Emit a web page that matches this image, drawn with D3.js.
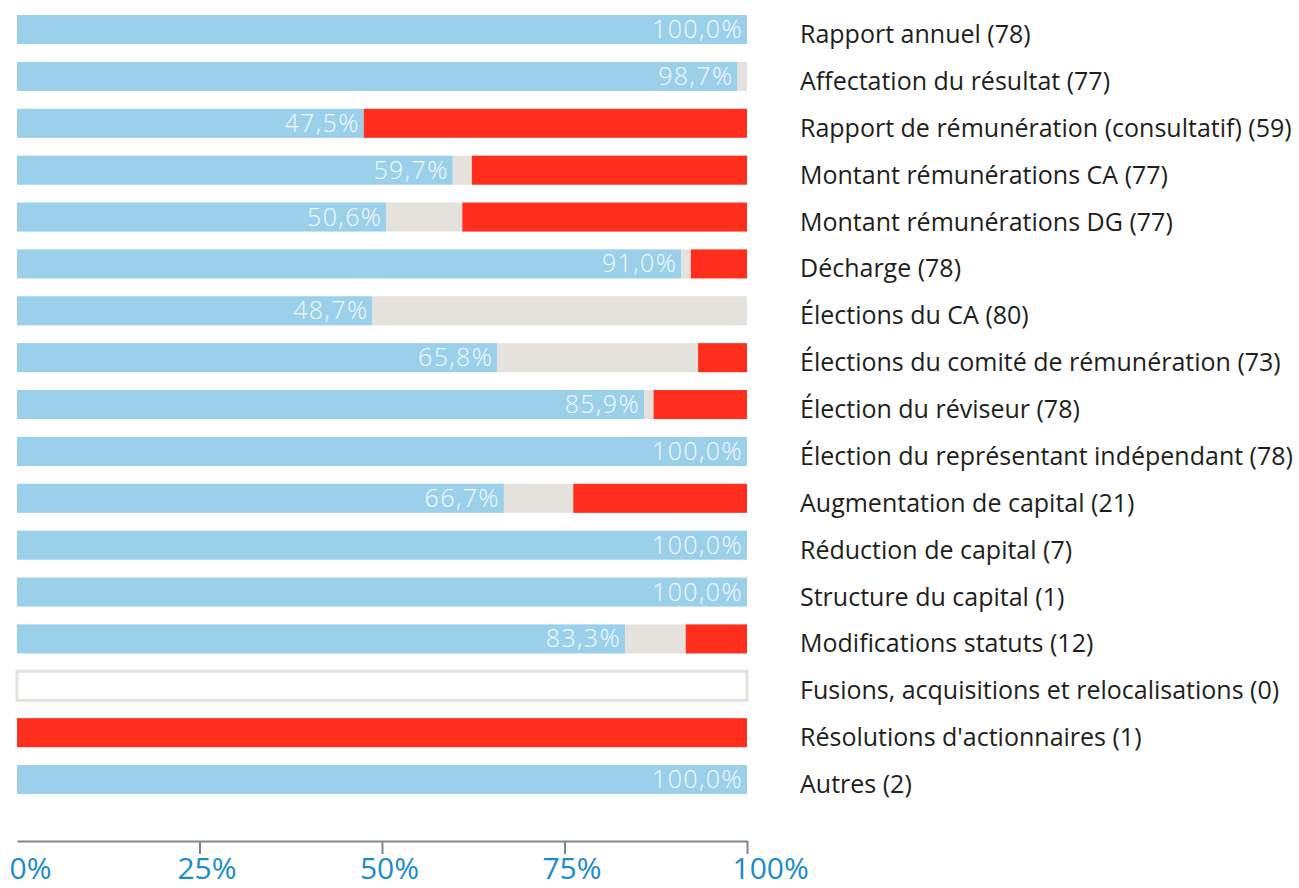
<!DOCTYPE html>
<html>
<head>
<meta charset="utf-8">
<script src="https://cdn.jsdelivr.net/npm/d3@7"></script>
<style>
  html, body { margin: 0; padding: 0; background: #fff; }
  svg { display: block; }
</style>
</head>
<body>
<svg id="chart" width="1299" height="888"></svg>
<script>
// categories (with number of votes in brackets)
const categories = [
  "Rapport annuel (78)",
  "Affectation du résultat (77)",
  "Rapport de rémunération (consultatif) (59)",
  "Montant rémunérations CA (77)",
  "Montant rémunérations DG (77)",
  "Décharge (78)",
  "Élections du CA (80)",
  "Élections du comité de rémunération (73)",
  "Élection du réviseur (78)",
  "Élection du représentant indépendant (78)",
  "Augmentation de capital (21)",
  "Réduction de capital (7)",
  "Structure du capital (1)",
  "Modifications statuts (12)",
  "Fusions, acquisitions et relocalisations (0)",
  "Résolutions d'actionnaires (1)",
  "Autres (2)"
];
// share in % : yes / abstention-mixed / no
const yesValues     = [100, 98.7, 47.5, 59.7, 50.6, 91.0, 48.7, 65.8, 85.9, 100, 66.7, 100, 100, 83.3, 0, 0, 100];
const abstainValues = [0, 1.3, 0, 2.6, 10.4, 1.3, 51.3, 27.5, 1.3, 0, 9.5, 0, 0, 8.3, 0, 0, 0];
const noValues      = [0, 0, 52.5, 37.7, 39.0, 7.7, 0, 6.7, 12.8, 0, 23.8, 0, 0, 8.4, 0, 100, 0];
const tickValues = [0, 25, 50, 75, 100];

const colors = { yes: "#9ad0ea", abstain: "#e5e2dd", no: "#ff2e1d" };

const svg = d3.select("#chart");

const x = d3.scaleLinear().domain([0, 100]).range([17, 747]);
// step ~46.9px, bars ~29px high, first bar top at 15
const y = d3.scaleBand().domain(categories).range([-2.8, 811.9]).padding(0.38);

const rows = categories.map((c, i) => ({
  cat: c,
  yes: yesValues[i],
  abstain: abstainValues[i],
  no: noValues[i]
}));

const stack = d3.stack().keys(["yes", "abstain", "no"])(rows);

svg.append("g")
  .selectAll("g")
  .data(stack)
  .join("g")
  .attr("fill", d => colors[d.key])
  .selectAll("rect")
  .data(d => d)
  .join("rect")
  .attr("x", d => x(d[0]))
  .attr("y", d => y(d.data.cat))
  .attr("width", d => x(d[1]) - x(d[0]))
  .attr("height", y.bandwidth());

// empty rows get an outlined box
svg.append("g")
  .selectAll("rect")
  .data(rows.filter(r => r.yes + r.abstain + r.no === 0))
  .join("rect")
  .attr("x", x(0))
  .attr("y", d => y(d.cat))
  .attr("width", x(100) - x(0))
  .attr("height", y.bandwidth())
  .attr("fill", "none")
  .attr("stroke", colors.abstain)
  .attr("stroke-width", 3);

// value labels inside the blue part
svg.append("g")
  .selectAll("text")
  .data(rows.filter(r => r.yes > 0))
  .join("text")
  .attr("x", d => x(d.yes) - 4)
  .attr("y", d => y(d.cat) + y.bandwidth() / 2)
  .attr("dy", "0.34em")
  .attr("text-anchor", "end")
  .attr("font-family", "'Open Sans', sans-serif")
  .attr("font-weight", 300)
  .attr("font-size", 25)
  .attr("letter-spacing", 1.4)
  .attr("fill", "#f2f9fd")
  .text(d => d.yes.toFixed(1).replace(".", ",") + "%");

// category labels on the right
svg.append("g")
  .selectAll("text")
  .data(categories)
  .join("text")
  .attr("x", 800)
  .attr("y", d => y(d) + y.bandwidth() / 2)
  .attr("dy", "0.54em")
  .attr("font-family", "'Open Sans', sans-serif")
  .attr("font-size", 25)
  .attr("fill", "#1e1e1c")
  .text(d => d);

// bottom axis
const axis = svg.append("g")
  .attr("transform", "translate(0,841)")
  .call(d3.axisBottom(x).tickValues(tickValues).tickSize(13).tickSizeOuter(0).tickFormat(d => d + "%"));

axis.select(".domain").attr("stroke", "#7e888c").attr("stroke-width", 2);
axis.selectAll(".tick line").attr("stroke", "#7e888c").attr("stroke-width", 2)
  .attr("display", d => d === 0 ? "none" : null);
axis.selectAll(".tick text")
  .attr("fill", "#1a8ccc")
  .attr("font-family", "'Open Sans', sans-serif")
  .attr("font-size", 30)
  .attr("y", 38)
  .attr("dy", 0)
  .attr("text-anchor", d => d === 0 || d === 100 ? "start" : "middle")
  .attr("dx", d => d === 0 ? -8 : d === 100 ? -15 : 7);
</script>
</body>
</html>
